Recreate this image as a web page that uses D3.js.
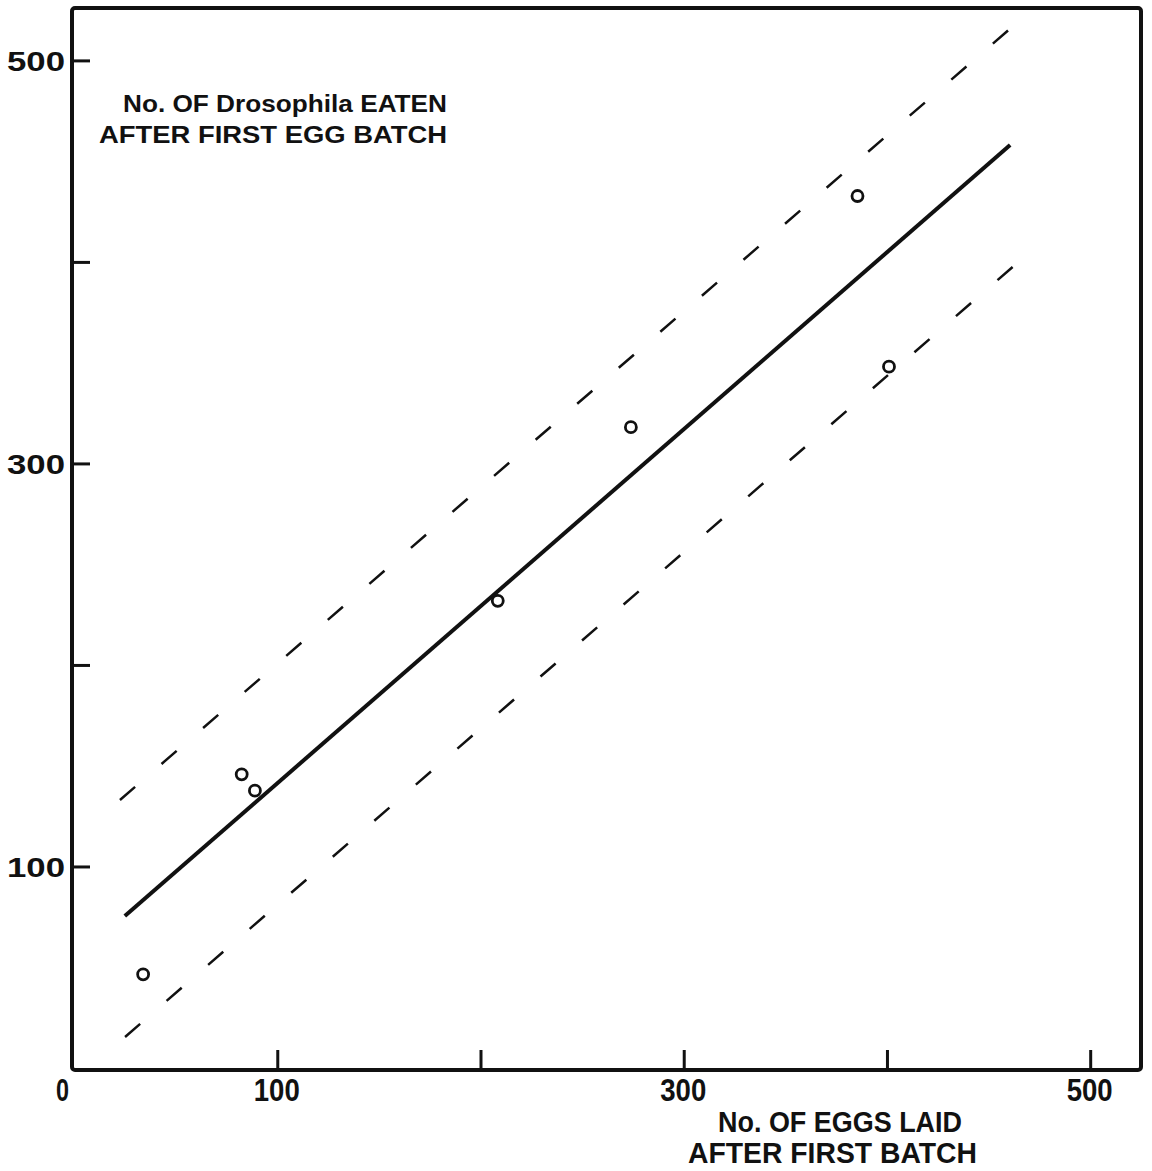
<!DOCTYPE html>
<meta charset='utf-8'>
<head>
  <style>
    body { margin: 0; background: #fff; }
    svg text { font-family: 'Liberation Sans', Arial, sans-serif; font-weight: bold; fill: #111; }
  </style>
</head>
<body>
<script src='https://d3js.org/d3.v7.min.js'></script>
<script>

// data
var eggsLaid = [34, 82.5, 89, 208.5, 274, 385.5, 401];
var flyEaten = [46.5, 145.7, 137.6, 231.8, 318, 432.7, 348];

// regression line and the two dashed limits (end points, data units)
var fitLine   = [[25, 75.4], [460.6, 458]];
var upperLine = [[22.6, 133], [465.5, 520]];
var lowerLine = [[25.1, 15.4], [463, 398.5]];

var xTicks = [0, 100, 200, 300, 400, 500];
var xTickLabels = ['0', '100', '', '300', '', '500'];
var yTicks = [100, 200, 300, 400, 500];
var yTickLabels = ['100', '', '300', '', '500'];

var yTitle = ['No. OF Drosophila EATEN', 'AFTER FIRST EGG BATCH'];
var xTitle = ['No. OF EGGS LAID', 'AFTER FIRST BATCH'];

var W = 1152, H = 1171;
var margin = {top: 8, right: 11, bottom: 101, left: 72},
    width = W - margin.left - margin.right,
    height = H - margin.top - margin.bottom;

var x = d3.scaleLinear().domain([-1, 525]).range([0, width]),
    y = d3.scaleLinear().domain([-1, 526]).range([height, 0]);

var svg = d3.select('body').append('svg')
    .attr('width', W)
    .attr('height', H)
  .append('g')
    .attr('transform', 'translate(' + margin.left + ',' + margin.top + ')');

// frame
svg.append('rect')
    .attr('x', 0).attr('y', 0)
    .attr('width', width).attr('height', height)
    .attr('rx', 3)
    .style('fill', 'none')
    .style('stroke', '#111')
    .style('stroke-width', 4);

var xAxis = d3.axisBottom(x)
    .tickValues(xTicks)
    .tickSize(-20)
    .tickFormat((d, i) => xTickLabels[i]);

var gx = svg.append('g')
    .attr('transform', 'translate(0,' + height + ')')
    .call(xAxis);
gx.select('.domain').remove();
gx.selectAll('line').style('stroke', '#111').style('stroke-width', 3)
    .filter(d => d === 0).remove();
gx.selectAll('text')
    .attr('y', 31).attr('dy', 0)
    .attr('x', d => d === 0 ? -12 : -1)
    .style('font-size', '32px')
    .attr('textLength', d => d === 0 ? 13 : 46)
    .attr('lengthAdjust', 'spacingAndGlyphs');

var yAxis = d3.axisLeft(y)
    .tickValues(yTicks)
    .tickSize(-18)
    .tickFormat((d, i) => yTickLabels[i]);

var gy = svg.append('g').call(yAxis);
gy.select('.domain').remove();
gy.selectAll('line').style('stroke', '#111').style('stroke-width', 3);
gy.selectAll('text')
    .attr('x', -7).attr('dy', '0.36em')
    .style('font-size', '28px')
    .attr('textLength', 58)
    .attr('lengthAdjust', 'spacingAndGlyphs');

// lines
var line = d3.line().x(d => x(d[0])).y(d => y(d[1]));

svg.append('path')
    .datum(fitLine)
    .attr('d', line)
    .style('fill', 'none')
    .style('stroke', '#111')
    .style('stroke-width', 4);

svg.selectAll('.limit')
    .data([upperLine, lowerLine])
  .enter().append('path')
    .attr('class', 'limit')
    .attr('d', line)
    .style('fill', 'none')
    .style('stroke', '#111')
    .style('stroke-width', 2.5)
    .style('stroke-dasharray', '20,35');

// points
svg.selectAll('.pt')
    .data(eggsLaid)
  .enter().append('circle')
    .attr('class', 'pt')
    .attr('cx', d => x(d))
    .attr('cy', (d, i) => y(flyEaten[i]))
    .attr('r', 5.5)
    .style('fill', '#fff')
    .style('stroke', '#111')
    .style('stroke-width', 2.8);

// titles
var yT = svg.append('g').style('font-size', '24px');
yT.append('text').attr('x', 51).attr('y', 104).text(yTitle[0])
    .attr('textLength', 324).attr('lengthAdjust', 'spacingAndGlyphs');
yT.append('text').attr('x', 27).attr('y', 135).text(yTitle[1])
    .attr('textLength', 348).attr('lengthAdjust', 'spacingAndGlyphs');

var xT = svg.append('g').style('font-size', '29px');
xT.append('text').attr('x', 646).attr('y', 1124).text(xTitle[0])
    .attr('textLength', 244).attr('lengthAdjust', 'spacingAndGlyphs');
xT.append('text').attr('x', 616).attr('y', 1155).text(xTitle[1])
    .attr('textLength', 289).attr('lengthAdjust', 'spacingAndGlyphs');

</script>
</body>
